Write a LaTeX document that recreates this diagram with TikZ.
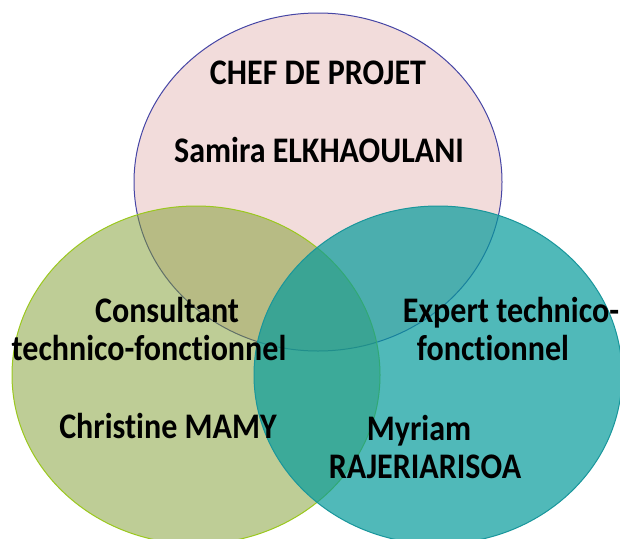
\documentclass[tikz,border=0pt]{standalone}
\usepackage{fontspec}
\setmainfont{Carlito}[Ligatures=NoCommon]
\usetikzlibrary{shapes.geometric}
\definecolor{topfill}{RGB}{230,185,184}
\definecolor{topline}{RGB}{70,70,165}
\definecolor{leftfill}{RGB}{125,155,45}
\definecolor{leftline}{RGB}{155,200,30}
\definecolor{rightfill}{RGB}{5,155,155}
\definecolor{rightline}{RGB}{25,150,155}
\newcommand{\vlbl}[1]{\scalebox{0.89}[1]{#1}}
\tikzset{
  venn/.style={ellipse, minimum width=368pt, minimum height=338pt, inner sep=0pt, line width=1pt},
  lbl/.style={anchor=base, inner sep=0pt, font=\fontsize{36}{40}\selectfont\bfseries}
}
\begin{document}
\begin{tikzpicture}[x=1pt,y=-1pt]
\useasboundingbox (0,0) rectangle (620,538);
\clip (0,0) rectangle (620,538);
\node[venn, fill=topfill, fill opacity=0.5, draw=topline] (top) at (318,182) {};
\node[venn, fill=leftfill, fill opacity=0.5, draw=leftline] (left) at (196,375) {};
\node[venn, fill=rightfill, fill opacity=0.7, draw=rightline] (right) at (438,375) {};
\node[lbl] (chef) at (318,84) {\vlbl{CHEF DE PROJET}};
\node[lbl] (samira) at (319,162) {\vlbl{Samira ELKHAOULANI}};
\node[lbl] (cons1) at (167,322) {\vlbl{Consultant}};
\node[lbl] (cons2) at (149,360) {\vlbl{technico-fonctionnel}};
\node[lbl] (christine) at (168,438) {\vlbl{Christine MAMY}};
\node[lbl] (exp1) at (511,322) {\vlbl{Expert technico-}};
\node[lbl] (exp2) at (493,360) {\vlbl{fonctionnel}};
\node[lbl] (myriam) at (419,440) {\vlbl{Myriam}};
\node[lbl] (raj) at (425,478) {\vlbl{RAJERIARISOA}};
\end{tikzpicture}
\end{document}
